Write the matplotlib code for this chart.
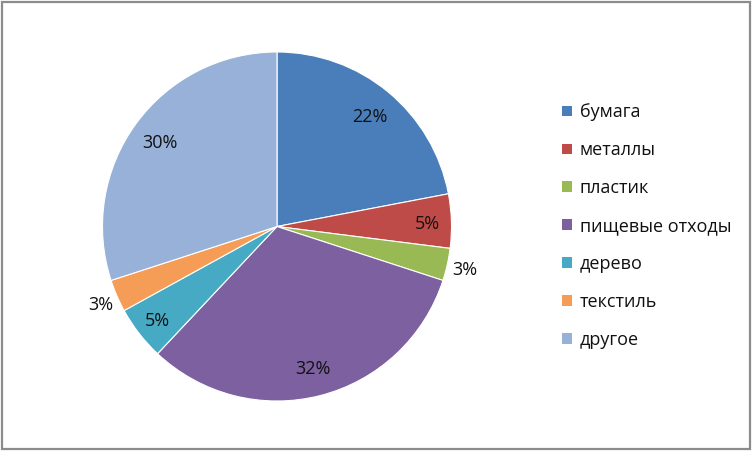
import matplotlib
matplotlib.use("Agg")
import matplotlib.pyplot as plt
import matplotlib.patches as mpatches
import numpy as np

categories = ["бумага", "металлы", "пластик", "пищевые отходы", "дерево", "текстиль", "другое"]
values = [22, 5, 3, 32, 5, 3, 30]
colors = ["#4A7EBB", "#BE4B48", "#98B954", "#7D60A0", "#46AAC5", "#F59D56", "#97B1D8"]
outside = [False, False, True, False, False, True, False]

W, H = 753, 451
fig = plt.figure(figsize=(W / 100, H / 100), dpi=100)
plt.rcParams['font.family'] = ['Open Sans', 'DejaVu Sans']

cx, cy, r = 277, 226.5, 174.5
ax = fig.add_axes([(cx - r) / W, (H - cy - r) / H, 2 * r / W, 2 * r / H])
wedges, texts, autotexts = ax.pie(
    values, colors=colors, startangle=90, counterclock=False,
    autopct=lambda p: f"{p:.0f}%", pctdistance=0.84,
    wedgeprops=dict(edgecolor="white", linewidth=0.8),
    textprops=dict(fontsize=13, color="black"), radius=1.0)
ax.set_xlim(-1, 1)
ax.set_ylim(-1, 1)
ax.set_aspect("equal")
ax.axis("off")

for w, t, v, out in zip(wedges, autotexts, values, outside):
    ang = np.deg2rad((w.theta1 + w.theta2) / 2)
    if out:
        d = 1.10
    elif v < 10:
        d = 0.865
    else:
        d = 0.83
    t.set_position((d * np.cos(ang), d * np.sin(ang)))
    t.set_va("center_baseline")
    t.set_color("#111111")

handles = [mpatches.Patch(facecolor=c, edgecolor="none") for c in colors]
leg = fig.legend(handles, categories, loc="center left",
                 bbox_to_anchor=(562 / W, 1 - 226 / H), frameon=False,
                 fontsize=13, labelspacing=1.1, handlelength=0.53,
                 handleheight=0.53, handletextpad=0.45, borderpad=0,
                 borderaxespad=0)
for t in leg.get_texts():
    t.set_color("#111111")

rect = mpatches.Rectangle((1.5 / W, 2.5 / H), 748.5 / W, 447 / H,
                          transform=fig.transFigure, fill=False,
                          edgecolor="#8C8C8C", linewidth=1.6)
fig.patches.append(rect)

fig.savefig("out.png", dpi=100)
